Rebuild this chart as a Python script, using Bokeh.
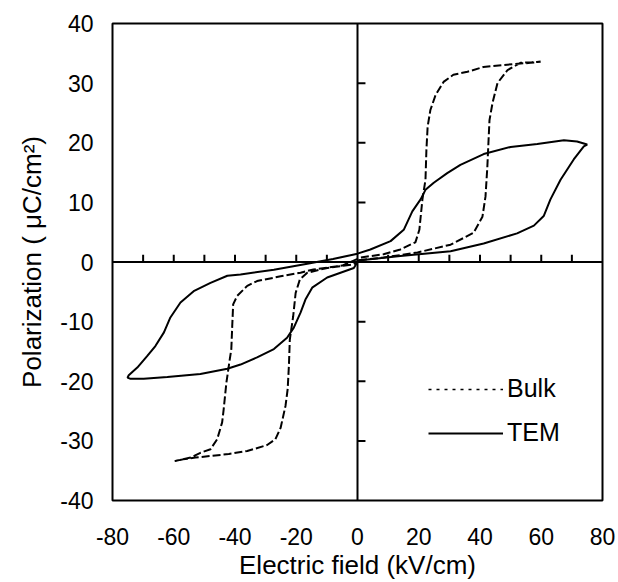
from bokeh.plotting import figure
from bokeh.models import Range1d, FixedTicker, Legend, LegendItem, Span
from bokeh.embed import file_html
from bokeh.resources import INLINE

# ---- data ----
x_ticks = [-80, -60, -40, -20, 0, 20, 40, 60, 80]
y_ticks = [-40, -30, -20, -10, 0, 10, 20, 30, 40]
x_minor = [-70, -60, -50, -40, -30, -20, -10, 10, 20, 30, 40, 50, 60, 70]
y_minor = [-30, -20, -10, 10, 20, 30]

# Bulk: antiferroelectric double loop (dashed)
bulk_x = [0.5, 8.5, 19.6, 30.4, 37.9, 40.8, 41.8, 42.4, 42.8, 43.1, 44.1, 45.7, 49.0, 53.2, 57.1, 59.8,
          56.5, 50.9, 41.1, 35.9, 31.3, 28.1, 25.5, 23.8, 22.9, 22.5, 22.2, 21.2, 20.2, 18.9, 14.0, 8.5, 1.0,
          -5.0, -14.4, -18.6, -25.1, -32.8, -36.0, -39.3, -40.6, -40.9, -41.2, -41.7, -42.8, -43.7, -44.2,
          -45.8, -48.0, -51.3, -54.5, -58.9, -59.7,
          -57.0, -52.9, -42.0, -36.0, -29.5, -26.8, -25.1, -23.5, -22.8, -22.4, -22.1, -21.0, -20.2, -18.8,
          -16.4, -9.9, -1.2, 0.5]
bulk_y = [0.3, 0.75, 1.6, 2.9, 4.9, 7.6, 11.0, 16.0, 20.5, 23.8, 26.7, 30.0, 32.2, 33.4, 33.5, 33.6,
          33.4, 33.2, 32.7, 31.9, 31.4, 30.2, 28.0, 25.5, 22.7, 18.8, 13.8, 10.5, 5.4, 3.3, 2.1, 1.3, 0.75,
          -0.6, -1.25, -1.8, -2.4, -3.2, -4.0, -5.7, -7.1, -10.7, -14.6, -16.3, -20.2, -24.7, -26.9,
          -29.7, -31.4, -32.0, -32.8, -33.3, -33.4,
          -33.1, -32.8, -32.2, -31.7, -30.7, -29.7, -27.8, -24.1, -21.3, -17.4, -13.0, -9.1, -5.2, -2.9,
          -1.8, -1.0, -0.4, 0.3]

# TEM: slanted double loop (solid)
tem_x = [0.3, 14.0, 30.4, 41.2, 52.1, 57.6, 60.8, 63.0, 66.3, 70.6, 73.9, 75.0,
         71.7, 67.4, 58.7, 50.0, 41.2, 33.6, 29.3, 24.9, 22.2, 20.6, 17.9, 15.1, 10.8, 4.2, 0.0,
         -8.0, -16.4, -27.3, -38.2, -42.5, -48.0, -53.5, -57.8, -61.1, -63.2, -66.0, -68.7, -71.9, -74.7, -75.1,
         -74.1, -69.8, -62.1, -51.3, -42.5, -38.2, -32.8, -27.3, -23.0, -20.8, -18.6, -17.0, -14.8, -9.9, -1.2, 0.3]
tem_y = [0.25, 1.0, 1.8, 3.1, 4.8, 6.1, 7.7, 10.5, 13.8, 17.2, 19.4, 19.7,
         20.2, 20.4, 19.8, 19.3, 18.1, 16.3, 14.9, 13.3, 12.1, 10.5, 8.5, 5.4, 3.5, 2.1, 1.4,
         0.5, -0.3, -1.3, -2.1, -2.3, -3.5, -4.9, -6.8, -9.3, -11.8, -14.1, -15.8, -17.7, -19.0, -19.4,
         -19.6, -19.6, -19.3, -18.8, -17.9, -17.2, -16.0, -14.6, -12.7, -11.0, -8.5, -6.3, -4.3, -2.6, -1.0, 0.25]

FONT = "Liberation Sans"
X_TICK_LEN = 2.6   # inward tick length on the zero lines, in data units
Y_TICK_LEN = 1.2

p = figure(width=618, height=582, output_backend="svg", toolbar_location=None,
           x_range=Range1d(-80, 80), y_range=Range1d(-40, 40),
           min_border_left=112, min_border_right=16, min_border_top=23, min_border_bottom=81,
           x_axis_label="Electric field (kV/cm)", y_axis_label="Polarization ( μC/cm²)")
p.grid.visible = False
p.outline_line_color = "black"
p.outline_line_width = 2
p.background_fill_color = "white"
p.border_fill_color = "white"

for ax, ticks in ((p.xaxis[0], x_ticks), (p.yaxis[0], y_ticks)):
    ax.ticker = FixedTicker(ticks=ticks)
    ax.major_label_overrides = {t: str(t) for t in ticks}
    ax.axis_line_color = None
    ax.major_tick_line_color = None
    ax.minor_tick_line_color = None
    ax.major_tick_out = 0
    ax.major_tick_in = 0
    ax.major_label_text_font = FONT
    ax.major_label_text_font_size = "23px"
    ax.major_label_text_color = "black"
    ax.axis_label_text_font = FONT
    ax.axis_label_text_font_size = "26px"
    ax.axis_label_text_font_style = "normal"
    ax.axis_label_text_color = "black"

p.xaxis.major_label_standoff = 27
p.xaxis.axis_label_standoff = 2
p.yaxis.major_label_standoff = 19
p.yaxis.axis_label_standoff = 10

# zero lines with inward ticks
p.add_layout(Span(location=0, dimension="height", line_color="black", line_width=2))
p.add_layout(Span(location=0, dimension="width", line_color="black", line_width=2))
p.segment(x0=0, y0=y_minor, x1=X_TICK_LEN, y1=y_minor, line_color="black", line_width=2)
p.segment(x0=x_minor, y0=0, x1=x_minor, y1=Y_TICK_LEN, line_color="black", line_width=2)

p.line(tem_x, tem_y, line_color="black", line_width=2)
p.line(bulk_x, bulk_y, line_color="black", line_width=2, line_dash="8 3")

nan = float("nan")
leg_bulk = p.line([nan], [nan], line_color="black", line_width=1.5, line_dash="3 5")
leg_tem = p.line([nan], [nan], line_color="black", line_width=2)

legend = Legend(items=[LegendItem(label="Bulk", renderers=[leg_bulk]),
                       LegendItem(label="TEM", renderers=[leg_tem])],
                location=(316, 53), glyph_width=75, glyph_height=28, spacing=15,
                label_standoff=4, padding=0, margin=0, border_line_color=None,
                background_fill_alpha=0, label_text_font=FONT, label_text_font_size="25px",
                label_text_color="black", label_height=28)
p.add_layout(legend)

open("out.html", "w").write(file_html(p, INLINE))
